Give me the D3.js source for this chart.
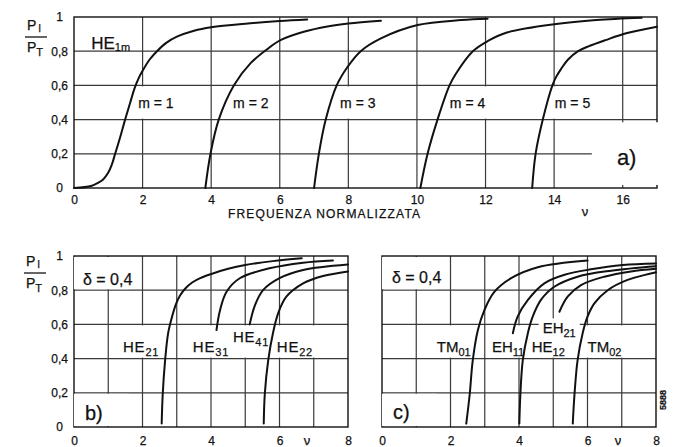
<!DOCTYPE html>
<html>
<head>
<meta charset="utf-8">
<script src="https://cdn.jsdelivr.net/npm/d3@7"></script>
<style>
  body { margin: 0; background: #fff; }
  svg { display: block; font-family: "Liberation Sans", Arial, sans-serif; }
</style>
</head>
<body>
<svg id="chart" width="686" height="447"></svg>
<script>
// ---- data ----
var pTicks = [0, 0.2, 0.4, 0.6, 0.8, 1];
var nuTicksA = [0, 2, 4, 6, 8, 10, 12, 14, 16];
var nuGridA = [2, 4, 6, 8, 10, 12, 14, 16];
var nuTicksBC = [0, 2, 4, 6, 8];
var nuGridBC = [1, 2, 3, 4, 5, 6, 7];

// a) HE1m, m = 1..5
var he1m1 = [[0, 0], [0.5, 0.012], [0.7, 0.03], [0.85, 0.05], [1.0, 0.09], [1.1, 0.135], [1.2, 0.2],
  [1.35, 0.3], [1.49, 0.4], [1.64, 0.5], [1.76, 0.58], [1.88, 0.64], [2.0, 0.685], [2.2, 0.75],
  [2.42, 0.8], [2.7, 0.85], [3.0, 0.885], [3.5, 0.92], [4.0, 0.94], [5.0, 0.961],
  [6.0, 0.976], [6.8, 0.985]];
var he1m2 = [[3.83, 0], [3.98, 0.2], [4.22, 0.4], [4.66, 0.6], [5.15, 0.73], [5.62, 0.81],
  [6.02, 0.865], [6.7, 0.914], [7.39, 0.945], [8.0, 0.962], [8.95, 0.978]];
var he1m3 = [[7.0, 0], [7.14, 0.2], [7.34, 0.4], [7.66, 0.6], [7.97, 0.706], [8.36, 0.8],
  [8.95, 0.875], [10.02, 0.953], [11.29, 0.982], [12.06, 0.99]];
var he1m4 = [[10.1, 0], [10.31, 0.2], [10.6, 0.4], [10.95, 0.6], [11.14, 0.67], [11.63, 0.8],
  [12.07, 0.86], [12.6, 0.908], [14.06, 0.959], [15.23, 0.982], [16.55, 0.995]];
var he1m5 = [[13.36, 0], [13.46, 0.2], [13.67, 0.4], [13.95, 0.6], [14.06, 0.65], [14.2, 0.695],
  [14.4, 0.75], [14.7, 0.8], [15.0, 0.828], [15.5, 0.865], [16.1, 0.905], [17.0, 0.943]];

// b) delta = 0,4
var he21 = [[2.56, 0.02], [2.59, 0.19], [2.66, 0.39], [2.75, 0.55], [2.87, 0.65], [2.98, 0.72],
  [3.1, 0.77], [3.25, 0.81], [3.45, 0.845], [3.7, 0.872], [4.01, 0.895], [4.5, 0.925],
  [5.0, 0.947], [5.8, 0.97], [6.65, 0.987]];
var he31 = [[4.16, 0.567], [4.26, 0.68], [4.45, 0.79], [4.84, 0.87], [5.71, 0.928], [6.69, 0.961],
  [7.56, 0.974]];
var he41 = [[5.13, 0.6], [5.28, 0.71], [5.52, 0.8], [6.0, 0.87], [6.69, 0.918], [8.0, 0.95]];
var he22 = [[5.54, 0.02], [5.57, 0.19], [5.67, 0.39], [5.81, 0.55], [5.96, 0.665], [6.2, 0.762],
  [6.69, 0.84], [7.27, 0.883], [8.0, 0.91]];

// c) delta = 0,4
var tm01 = [[2.46, 0.02], [2.56, 0.19], [2.65, 0.39], [2.8, 0.567], [2.99, 0.684], [3.28, 0.79],
  [3.77, 0.87], [4.55, 0.934], [6.0, 0.973]];
var eh11 = [[3.82, 0.548], [3.96, 0.645], [4.26, 0.743], [4.74, 0.84], [5.33, 0.89], [6.1, 0.922],
  [7.03, 0.947], [8.0, 0.956]];
var he12 = [[4.01, 0.02], [4.04, 0.19], [4.11, 0.39], [4.26, 0.55], [4.4, 0.645], [4.64, 0.743],
  [5.03, 0.82], [5.71, 0.879], [6.69, 0.914], [8.0, 0.94]];
var eh21 = [[5.18, 0.674], [5.42, 0.762], [5.81, 0.83], [6.49, 0.879], [7.27, 0.91], [8.0, 0.925]];
var tm02 = [[5.57, 0.02], [5.62, 0.19], [5.71, 0.39], [5.86, 0.55], [6.0, 0.645], [6.2, 0.723],
  [6.59, 0.8], [7.17, 0.86], [8.0, 0.905]];

// ---- drawing ----
var svg = d3.select("#chart");
var gridLayer = svg.append("g");
var boxLayer = svg.append("g");
var curveLayer = svg.append("g");
var textLayer = svg.append("g").attr("fill", "#111")
  .attr("stroke", "#111").attr("stroke-width", 0.25);

var ink = "#111";
var gridInk = "#3a3a3a";

function pFormat(d) {
  return (d === 0 || d === 1) ? String(d) : d.toFixed(1).replace(".", ",");
}

var xA = d3.scaleLinear().domain([0, 17]).range([74, 657]);
var yA = d3.scaleLinear().domain([0, 1]).range([188, 17]);
var xB = d3.scaleLinear().domain([0, 8]).range([74, 348]);
var yB = d3.scaleLinear().domain([0, 1]).range([427, 256]);
var xC = d3.scaleLinear().domain([0, 8]).range([382, 656]);
var yC = yB;

function drawPanel(x, y, gridX, ticksX, showY, padX) {
  var xr = x.range(), yr = y.range();
  gridLayer.append("g").selectAll("line").data(gridX).enter().append("line")
    .attr("x1", d => x(d)).attr("x2", d => x(d))
    .attr("y1", yr[0]).attr("y2", yr[1])
    .attr("stroke", gridInk).attr("stroke-width", 1.2);
  gridLayer.append("g").selectAll("line").data(pTicks.filter(d => d > 0 && d < 1)).enter().append("line")
    .attr("x1", xr[0]).attr("x2", xr[1])
    .attr("y1", d => y(d)).attr("y2", d => y(d))
    .attr("stroke", gridInk).attr("stroke-width", 1.2);
  gridLayer.append("rect")
    .attr("x", xr[0]).attr("y", yr[1])
    .attr("width", xr[1] - xr[0]).attr("height", yr[0] - yr[1])
    .attr("fill", "none").attr("stroke", ink).attr("stroke-width", 1.4);

  var ax = textLayer.append("g")
    .attr("transform", "translate(0," + yr[0] + ")")
    .call(d3.axisBottom(x).tickValues(ticksX).tickSize(0).tickPadding(padX).tickFormat(d3.format("d")));
  ax.select(".domain").remove();
  ax.selectAll("text").attr("font-size", 12).attr("fill", ink).attr("font-family", null);

  if (showY) {
    var ay = textLayer.append("g")
      .attr("transform", "translate(" + xr[0] + ",0)")
      .call(d3.axisLeft(y).tickValues(pTicks).tickSize(0).tickPadding(6).tickFormat(pFormat));
    ay.select(".domain").remove();
    ay.selectAll("text").attr("font-size", 12).attr("fill", ink).attr("font-family", null)
      .attr("dx", d => (d === 0 || d === 1) ? -5 : 0);
  }
}

var line = function (x, y) {
  return d3.line().x(d => x(d[0])).y(d => y(d[1])).curve(d3.curveCatmullRom.alpha(0.5));
};

function drawCurves(x, y, list) {
  curveLayer.append("g").selectAll("path").data(list).enter().append("path")
    .attr("d", d => line(x, y)(d))
    .attr("fill", "none").attr("stroke", ink).attr("stroke-width", 2)
    .attr("stroke-linejoin", "round").attr("stroke-linecap", "round");
}

// text label with optional white box behind it (hides grid lines)
function label(x, y, vx, vy, main, sub, o) {
  o = o || {};
  var size = o.size || 15;
  var t = textLayer.append("text")
    .attr("x", x(vx)).attr("y", y(vy)).attr("dy", "0.36em")
    .attr("font-size", size)
    .attr("letter-spacing", o.ls || 0);
  t.append("tspan").text(main);
  if (sub) {
    t.append("tspan").attr("font-size", o.subSize || 11).attr("dy", o.subDy || 4).text(sub);
  }
  if (o.box) {
    var b = t.node().getBBox();
    var top, bot;
    if (o.band) { top = y(o.band[1]) + 1; bot = y(o.band[0]) - 1; }
    else { top = b.y - 1; bot = b.y + b.height + 1; }
    boxLayer.append("rect")
      .attr("x", b.x - 4).attr("width", b.width + 8)
      .attr("y", top).attr("height", bot - top)
      .attr("fill", "#fff");
  }
  return t;
}

function blank(x, y, vx0, vx1, vy0, vy1) {
  boxLayer.append("rect")
    .attr("x", x(vx0)).attr("width", x(vx1) - x(vx0))
    .attr("y", y(vy1) + 1).attr("height", y(vy0) - y(vy1) - 2)
    .attr("fill", "#fff");
}

function fraction(xl, lineY) {
  var g = textLayer.append("g");
  var t1 = g.append("text").attr("x", xl + 2).attr("y", lineY - 7).attr("font-size", 14);
  t1.append("tspan").text("P");
  t1.append("tspan").attr("font-size", 10).attr("dx", 2).attr("dy", 2).text("I");
  g.append("line").attr("x1", xl).attr("x2", xl + 22).attr("y1", lineY).attr("y2", lineY)
    .attr("stroke", ink).attr("stroke-width", 1.3);
  var t2 = g.append("text").attr("x", xl + 2).attr("y", lineY + 15).attr("font-size", 14);
  t2.append("tspan").text("P");
  t2.append("tspan").attr("font-size", 11).attr("dy", 4).text("T");
}

// panel a
drawPanel(xA, yA, nuGridA, nuTicksA, true, 7);
blank(xA, yA, 15.1, 17.1, 0.012, 0.39);
drawCurves(xA, yA, [he1m1, he1m2, he1m3, he1m4, he1m5]);
label(xA, yA, 0.5, 0.848, "HE", "1m", { size: 17, subSize: 11, subDy: 2 });
var mLabels = [["m = 1", 1.87], ["m = 2", 4.64], ["m = 3", 7.76], ["m = 4", 10.96], ["m = 5", 14.02]];
mLabels.forEach(function (m) {
  label(xA, yA, m[1], 0.497, m[0], null, { size: 14, box: true, band: [0.4, 0.6] });
});
label(xA, yA, 15.83, 0.18, "a)", null, { size: 22 });
fraction(25, 37);
textLayer.append("text").attr("x", 228).attr("y", 217.5).attr("font-size", 12)
  .attr("textLength", 192).attr("lengthAdjust", "spacing")
  .text("FREQUENZA  NORMALIZZATA");
textLayer.append("text").attr("x", 585).attr("y", 216).attr("font-size", 13)
  .attr("text-anchor", "middle").text("ν");

// panel b
drawPanel(xB, yB, nuGridBC, nuTicksBC, true, 9);
blank(xB, yB, 0, 1.6, 0.8, 1);
blank(xB, yB, 0, 1.6, 0, 0.2);
drawCurves(xB, yB, [he21, he31, he41, he22]);
label(xB, yB, 0.26, 0.865, "δ = 0,4", null, { size: 16 });
label(xB, yB, 1.43, 0.468, "HE", "21", { ls: 0.8, box: true, band: [0.4, 0.6] });
label(xB, yB, 3.47, 0.468, "HE", "31", { ls: 0.8, box: true, band: [0.4, 0.6] });
label(xB, yB, 4.64, 0.526, "HE", "41", { ls: 0.8, box: true, band: [0.4, 0.6] });
label(xB, yB, 5.92, 0.468, "HE", "22", { ls: 0.8, box: true, band: [0.4, 0.6] });
label(xB, yB, 0.32, 0.082, "b)", null, { size: 20 });
fraction(24, 273);
textLayer.append("text").attr("x", 307).attr("y", 445).attr("font-size", 13)
  .attr("text-anchor", "middle").text("ν");

// panel c
drawPanel(xC, yC, nuGridBC, nuTicksBC, false, 9);
blank(xC, yC, 0, 1.6, 0.8, 1);
blank(xC, yC, 0, 1.6, 0, 0.2);
drawCurves(xC, yC, [tm01, eh11, he12, eh21, tm02]);
label(xC, yC, 0.29, 0.877, "δ = 0,4", null, { size: 16 });
label(xC, yC, 1.6, 0.468, "TM", "01", { box: true, band: [0.4, 0.6] });
label(xC, yC, 3.21, 0.468, "EH", "11", { box: true, band: [0.4, 0.6] });
label(xC, yC, 4.37, 0.468, "HE", "12", { box: true, band: [0.4, 0.6] });
label(xC, yC, 4.69, 0.579, "EH", "21", { box: true });
label(xC, yC, 6.0, 0.468, "TM", "02", { box: true, band: [0.4, 0.6] });
label(xC, yC, 0.32, 0.088, "c)", null, { size: 20 });
textLayer.append("text").attr("x", 618).attr("y", 445).attr("font-size", 13)
  .attr("text-anchor", "middle").text("ν");

textLayer.append("text")
  .attr("transform", "translate(666,400) rotate(-90)")
  .attr("text-anchor", "middle").attr("font-size", 9).attr("font-weight", "bold")
  .text("5888");
</script>
</body>
</html>
